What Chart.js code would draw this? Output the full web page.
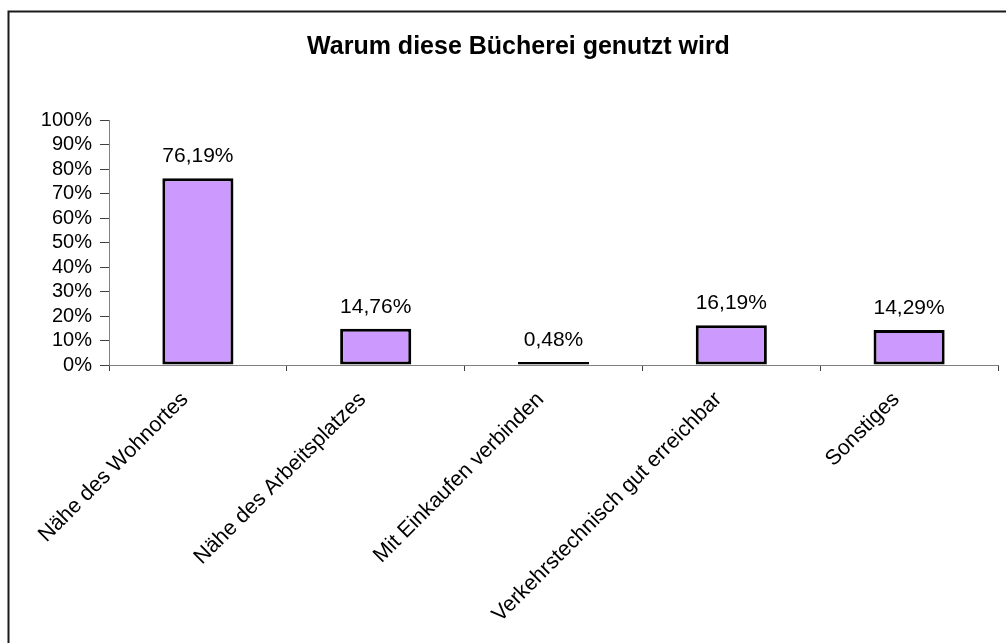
<!DOCTYPE html>
<html>
<head>
<meta charset="utf-8">
<script src="https://cdn.jsdelivr.net/npm/chart.js@4"></script>
<style>
    body { margin: 0; background: #fff; }
</style>
</head>
<body>
<canvas id="myChart" width="1006" height="643"></canvas>
<script>
// chart data
const categories = ['Nähe des Wohnortes', 'Nähe des Arbeitsplatzes', 'Mit Einkaufen verbinden', 'Verkehrstechnisch gut erreichbar', 'Sonstiges'];
const shares = [76.19, 14.76, 0.48, 16.19, 14.29];
const chartTitle = 'Warum diese Bücherei genutzt wird';

const fontFamily = "'Liberation Sans', Arial, sans-serif";

// frame round the chart (only left and top edge are visible)
const framePlugin = {
    id: 'frame',
    beforeDraw: (chart) => {
        const ctx = chart.ctx;
        ctx.save();
        ctx.fillStyle = '#fff';
        ctx.fillRect(0, 0, chart.width, chart.height);
        ctx.strokeStyle = '#1a1a1a';
        ctx.lineWidth = 2;
        ctx.strokeRect(8.5, 11.5, chart.width + 20, chart.height + 20);
        ctx.restore();
    }
};

// value labels above the bars
const valueLabels = {
    id: 'valueLabels',
    afterDatasetsDraw: (chart) => {
        const ctx = chart.ctx;
        const meta = chart.getDatasetMeta(0);
        ctx.save();
        ctx.font = '21px ' + fontFamily;
        ctx.fillStyle = '#000';
        ctx.textAlign = 'center';
        ctx.textBaseline = 'alphabetic';
        meta.data.forEach((bar, i) => {
            const txt = shares[i].toFixed(2).replace('.', ',') + '%';
            ctx.fillText(txt, bar.x, bar.y - 16);
        });
        ctx.restore();
    }
};

const ctx = document.getElementById('myChart').getContext('2d');
const myChart = new Chart(ctx, {
    type: 'bar',
    data: {
        labels: categories,
        datasets: [{
            data: shares,
            backgroundColor: '#CC99FF',
            borderColor: '#000',
            borderWidth: 3,
            borderSkipped: false,
            minBarLength: 3,
            barPercentage: 0.4,
            categoryPercentage: 1.0
        }]
    },
    options: {
        responsive: false,
        animation: false,
        layout: {
            padding: { top: 12, left: 39, right: 8, bottom: 0 }
        },
        plugins: {
            legend: { display: false },
            tooltip: { enabled: false },
            title: {
                display: true,
                text: chartTitle,
                color: '#000',
                font: { family: fontFamily, size: 25, weight: 'bold' },
                padding: { top: 20, bottom: 58 }
            }
        },
        scales: {
            x: {
                grid: { drawOnChartArea: false, tickLength: 6, offset: true, color: '#404040' },
                border: { color: '#808080', width: 1 },
                ticks: {
                    autoSkip: false,
                    minRotation: 45,
                    maxRotation: 45,
                    padding: 16,
                    labelOffset: -13,
                    color: '#000',
                    font: { family: fontFamily, size: 21.5 }
                },
                afterFit: (scale) => { scale.height = 278; }
            },
            y: {
                min: 0,
                max: 100,
                grid: { drawOnChartArea: false, tickLength: 9, color: '#404040' },
                border: { color: '#808080', width: 1 },
                ticks: {
                    autoSkip: false,
                    stepSize: 10,
                    padding: 8,
                    color: '#000',
                    font: { family: fontFamily, size: 20 },
                    callback: (v) => v + '%'
                },
                afterFit: (scale) => { scale.width = 70; }
            }
        }
    },
    plugins: [framePlugin, valueLabels]
});
</script>
</body>
</html>
